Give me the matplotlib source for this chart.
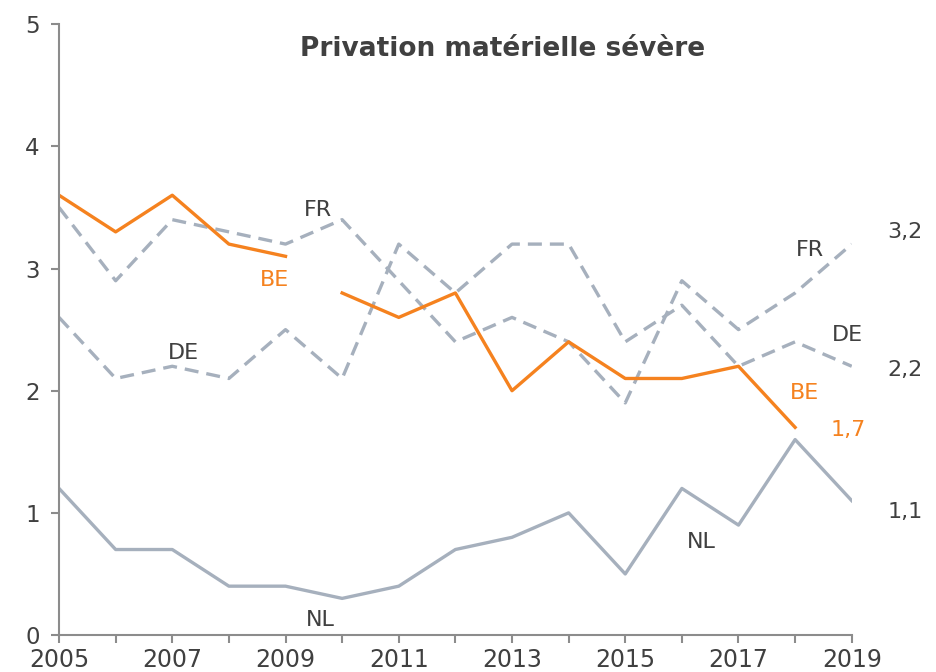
import matplotlib
matplotlib.use('Agg')
import matplotlib.pyplot as plt

# ── 数据 ─────────────────────────────────────────────
years = list(range(2005, 2020))
be_a_years = [2005, 2006, 2007, 2008, 2009]
be_a = [3.6, 3.3, 3.6, 3.2, 3.1]
be_b_years = [2010, 2011, 2012, 2013, 2014, 2015, 2016, 2017, 2018]
be_b = [2.8, 2.6, 2.8, 2.0, 2.4, 2.1, 2.1, 2.2, 1.7]
fr = [3.5, 2.9, 3.4, 3.3, 3.2, 3.4, 2.9, 2.4, 2.6, 2.4, 1.9, 2.9, 2.5, 2.8, 3.2]
de = [2.6, 2.1, 2.2, 2.1, 2.5, 2.1, 3.2, 2.8, 3.2, 3.2, 2.4, 2.7, 2.2, 2.4, 2.2]
nl = [1.2, 0.7, 0.7, 0.4, 0.4, 0.3, 0.4, 0.7, 0.8, 1.0, 0.5, 1.2, 0.9, 1.6, 1.1]
xticks = [2005, 2007, 2009, 2011, 2013, 2015, 2017, 2019]

C_OR = '#F5821F'
C_GR = '#A6B0BD'
C_TX = '#404040'
C_AX = '#8C8C8C'

plt.rcParams['font.family'] = ['DejaVu Sans']

fig = plt.figure(figsize=(9.37, 6.72), dpi=100)
ax = fig.add_axes([0.063, 0.055, 0.846, 0.909])

lw = 2.4
ax.plot(years, nl, color=C_GR, lw=lw)
ax.plot(years, de, color=C_GR, lw=lw, dashes=(4.2, 2.4))
ax.plot(years, fr, color=C_GR, lw=lw, dashes=(4.2, 2.4))
ax.plot(be_a_years, be_a, color=C_OR, lw=lw)
ax.plot(be_b_years, be_b, color=C_OR, lw=lw)

ax.set_xlim(2005, 2019)
ax.set_ylim(0, 5)
ax.set_xticks(range(2005, 2020))
ax.set_xticklabels([str(y) if y in xticks else '' for y in range(2005, 2020)])
ax.set_yticks(range(0, 6))

for s in ['top', 'right']:
    ax.spines[s].set_visible(False)
for s in ['left', 'bottom']:
    ax.spines[s].set_color(C_AX)
    ax.spines[s].set_linewidth(1.5)
ax.tick_params(axis='both', colors=C_AX, width=1.5, length=6,
               labelcolor=C_TX)
ax.tick_params(axis='x', pad=3, labelsize=17)
ax.tick_params(axis='y', pad=8, labelsize=16.5)

ax.text(0.56, 0.96, 'Privation matérielle sévère', transform=ax.transAxes,
        fontsize=19, fontweight='bold', color=C_TX, ha='center', va='center')

fs = 16
ax.text(2009.57, 3.48, 'FR', color=C_TX, fontsize=fs, ha='center', va='center')
ax.text(2008.81, 2.91, 'BE', color=C_OR, fontsize=fs, ha='center', va='center')
ax.text(2007.19, 2.31, 'DE', color=C_TX, fontsize=fs, ha='center', va='center')
ax.text(2009.61, 0.12, 'NL', color=C_TX, fontsize=fs, ha='center', va='center')
ax.text(2018.26, 3.15, 'FR', color=C_TX, fontsize=fs, ha='center', va='center')
ax.text(2018.93, 2.46, 'DE', color=C_TX, fontsize=fs, ha='center', va='center')
ax.text(2018.17, 1.98, 'BE', color=C_OR, fontsize=fs, ha='center', va='center')
ax.text(2016.35, 0.76, 'NL', color=C_TX, fontsize=fs, ha='center', va='center')

ax.text(2019.94, 3.30, '3,2', color=C_TX, fontsize=fs, ha='center', va='center', clip_on=False)
ax.text(2019.94, 2.17, '2,2', color=C_TX, fontsize=fs, ha='center', va='center', clip_on=False)
ax.text(2018.93, 1.68, '1,7', color=C_OR, fontsize=fs, ha='center', va='center', clip_on=False)
ax.text(2019.94, 1.01, '1,1', color=C_TX, fontsize=fs, ha='center', va='center', clip_on=False)

fig.savefig('out.png', dpi=100, facecolor='white')
